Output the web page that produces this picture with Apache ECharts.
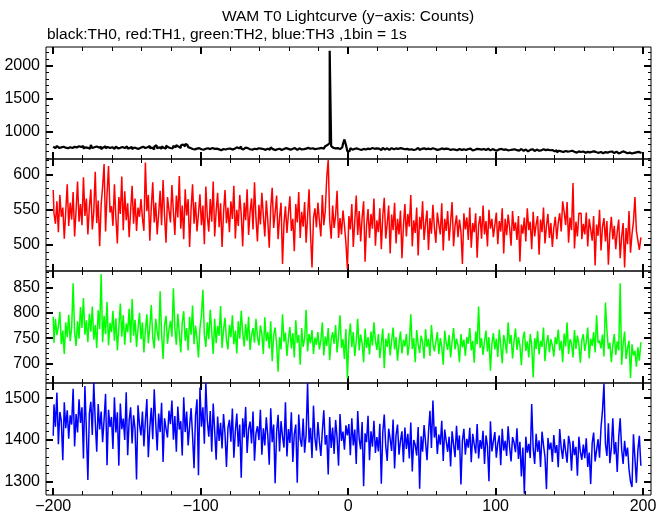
<!DOCTYPE html>
<html><head><meta charset="utf-8">
<script src="https://cdn.jsdelivr.net/npm/echarts@6/dist/echarts.min.js"></script>
<style>html,body{margin:0;padding:0;background:#fff}#c{width:669px;height:515px}</style>
</head><body><div id="c"></div>
<script>
// time bins: 1 bin = 1 s, starting at -200 s
const binStart = -200;
const binCount = 400;

const th0 = [
772,748,765,781,752,760,738,769,755,774,746,762,790,751,768,743,759,777,748,764,
781,742,760,753,770,738,795,749,761,772,744,756,768,733,759,778,747,764,751,740,
762,736,757,771,744,753,729,766,748,759,775,740,752,767,731,758,745,770,738,756,
743,769,751,734,762,780,747,755,728,771,792,746,760,739,775,754,741,786,763,750,
768,744,782,759,795,771,750,788,803,776,812,798,764,752,735,747,729,741,736,748,
731,742,725,738,719,746,733,728,751,737,722,740,729,744,716,735,748,727,739,730,
743,726,752,738,761,734,745,772,740,729,755,736,748,731,758,725,739,762,733,746,
728,741,735,753,722,738,747,726,760,733,718,744,731,739,756,721,735,729,748,737,
742,725,738,731,749,720,736,745,729,758,734,741,727,752,738,730,746,733,755,739,
744,736,751,740,763,778,795,825,2228,780,752,745,738,749,733,741,758,812,880,798,
700,702,748,725,739,716,744,731,752,720,737,746,728,741,719,733,750,726,738,744,
729,741,718,736,752,727,745,733,721,748,739,730,744,717,736,749,725,740,731,722,
738,726,744,731,719,740,728,752,735,721,737,745,724,733,741,718,730,746,727,735,
722,738,729,744,716,733,741,725,737,720,748,731,726,739,715,734,743,722,730,737,
719,735,726,741,712,730,723,738,717,732,726,709,735,721,729,740,714,727,733,718,
725,710,731,718,736,722,707,729,715,733,720,726,704,730,717,724,711,735,719,708,
728,713,699,722,716,732,705,719,726,708,721,714,731,702,718,725,709,716,720,703,
702,716,685,708,699,711,690,705,717,696,701,687,709,694,703,680,698,712,689,697,
700,678,691,705,683,694,673,699,686,708,677,690,696,671,688,701,680,693,684,697,
673,687,696,668,692,681,699,675,686,671,693,680,667,689,676,684,672,691,678,673
];

const th1 = [
578,545,530,562,518,571,540,553,509,548,586,527,560,536,575,512,549,590,533,558,
528,596,541,566,515,553,579,522,547,604,531,563,498,557,583,615,519,572,612,546,
555,527,586,539,502,568,544,597,521,576,535,559,511,549,584,530,566,520,553,540,
565,538,520,617,548,571,506,553,589,532,560,515,544,577,528,592,541,503,568,549,
532,585,547,514,570,539,598,523,556,508,579,542,565,497,551,586,530,561,519,544,
572,528,556,501,583,540,519,565,533,590,512,548,574,525,559,497,545,578,531,553,
518,562,537,584,509,550,527,571,543,498,560,535,579,514,547,566,522,589,538,505,
557,529,574,541,512,563,535,496,552,581,524,546,570,508,539,560,473,531,555,517,
544,569,520,537,491,558,532,575,510,547,526,561,503,540,579,515,468,538,552,525,
560,534,512,571,528,548,596,621,535,509,556,524,542,577,510,538,515,549,528,503,
466,541,522,558,497,533,570,514,548,505,539,562,476,528,551,510,544,523,566,499,
535,518,552,494,541,567,509,530,556,488,543,521,560,502,537,515,549,481,527,558,
512,544,526,571,498,535,517,553,485,540,522,562,507,531,549,493,538,516,557,524,
503,546,529,515,559,492,537,520,548,506,533,561,498,527,542,511,536,519,473,545,
522,539,507,553,496,531,518,545,482,528,541,509,556,515,534,498,550,523,537,511,
528,546,501,534,519,552,488,537,514,543,525,499,548,520,532,507,541,476,529,516,
539,505,552,521,533,494,547,512,529,541,486,536,518,553,502,527,544,510,531,497,
524,540,508,532,545,519,562,547,528,561,503,539,521,588,495,533,512,545,545,508,
530,515,546,498,537,522,506,541,471,529,513,550,492,526,538,505,534,472,517,540,
508,527,494,519,536,481,512,531,468,524,501,548,489,515,533,568,520,506,493,510
];

const th2 = [
792,741,788,756,773,802,738,765,719,781,752,796,744,770,858,762,735,783,749,811,
770,829,757,785,742,798,763,812,747,776,731,805,768,876,742,794,758,821,736,780,
762,804,745,789,726,771,818,753,795,737,779,762,808,741,827,755,786,733,769,800,
748,781,722,765,797,740,772,815,751,730,788,763,745,842,758,709,776,794,739,767,
784,753,848,769,737,798,760,722,781,803,745,770,726,792,757,814,738,775,749,712,
769,795,845,756,733,781,748,806,762,719,788,740,774,755,813,731,767,790,746,728,
776,752,795,738,765,720,783,749,804,761,734,778,745,792,727,756,770,741,788,752,
736,775,758,719,791,744,762,730,783,705,756,771,738,684,752,728,797,743,761,715,
748,772,730,760,712,785,741,756,698,770,733,749,806,724,758,740,766,719,751,737,
762,728,745,781,716,753,735,770,707,748,762,739,776,722,755,795,731,748,709,768,
671,750,779,733,762,715,744,788,726,757,740,703,769,731,752,718,763,736,781,745,
727,758,711,740,769,691,749,733,760,716,745,771,728,752,706,739,763,720,747,734,
758,716,741,797,729,750,703,766,738,721,755,742,710,768,733,749,715,776,739,724,
743,762,719,750,733,698,765,741,727,756,712,744,770,728,749,736,703,758,732,747,
715,752,739,770,726,745,702,763,738,812,731,750,717,744,765,724,752,686,739,760,
728,749,713,767,735,701,756,742,720,781,739,756,710,744,769,727,752,736,697,748,
763,725,744,712,758,737,673,750,729,764,718,745,733,771,705,740,756,722,748,736,
714,752,738,767,726,745,703,759,734,781,719,748,740,712,766,729,755,737,702,746,
758,725,743,771,710,749,735,762,722,795,741,745,730,757,714,820,766,729,741,703,
736,758,717,744,726,858,698,739,763,709,731,745,672,738,716,725,694,732,706,741
];

const th3 = [
1410,1485,1432,1513,1390,1467,1445,1352,1490,1428,1471,1403,1459,1437,1522,1385,1462,1418,1497,1441,
1478,1356,1529,1420,1305,1463,1491,1412,1537,1444,1372,1486,1425,1468,1395,1449,1510,1340,1472,1431,
1455,1379,1502,1418,1466,1339,1487,1426,1451,1400,1514,1364,1447,1478,1392,1459,1426,1306,1483,1437,
1411,1468,1385,1446,1498,1359,1430,1477,1402,1521,1442,1375,1463,1419,1489,1348,1452,1427,1406,1470,
1438,1494,1401,1457,1372,1480,1425,1445,1363,1502,1419,1468,1387,1434,1476,1410,1333,1458,1497,1316,
1525,1432,1478,1391,1536,1446,1408,1469,1372,1487,1421,1353,1456,1398,1441,1380,1462,1415,1336,1429,
1448,1396,1475,1358,1420,1463,1384,1437,1310,1452,1406,1479,1369,1426,1444,1392,1468,1351,1416,1433,
1400,1472,1365,1428,1387,1454,1412,1341,1476,1395,1437,1297,1419,1460,1373,1445,1408,1382,1490,1361,
1426,1393,1466,1348,1415,1437,1298,1461,1402,1384,1451,1370,1413,1536,1394,1429,1357,1482,1404,1375,
1443,1398,1362,1421,1471,1389,1412,1318,1455,1381,1430,1367,1448,1406,1339,1462,1398,1420,1377,1435,
1411,1438,1364,1452,1387,1425,1343,1469,1402,1378,1443,1290,1416,1395,1458,1352,1421,1384,1446,1369,
1407,1373,1439,1296,1418,1461,1386,1350,1427,1403,1374,1449,1332,1412,1437,1365,1398,1421,1347,1430,
1379,1415,1356,1442,1325,1400,1388,1363,1431,1284,1409,1372,1436,1395,1352,1418,1470,1381,1494,1406,
1432,1367,1413,1389,1446,1350,1425,1398,1372,1408,1337,1421,1390,1359,1434,1376,1411,1294,1398,1427,
1365,1403,1382,1429,1347,1415,1390,1368,1438,1356,1400,1379,1422,1343,1411,1386,1302,1445,1373,1397,
1419,1358,1392,1411,1340,1427,1375,1398,1362,1433,1384,1349,1407,1394,1371,1428,1355,1396,1313,1382,
1272,1408,1370,1391,1357,1486,1380,1343,1415,1372,1399,1336,1420,1388,1360,1283,1405,1377,1394,1348,
1412,1369,1388,1335,1426,1381,1355,1402,1373,1346,1410,1390,1327,1398,1364,1384,1315,1408,1371,1353,
1389,1357,1404,1336,1370,1295,1392,1418,1349,1376,1402,1358,1430,1470,1535,1391,1362,1440,1345,1380,
1452,1366,1395,1324,1407,1452,1378,1343,1398,1361,1382,1330,1301,1288,1414,1357,1298,1376,1410,1340
];

const xMajorTicks = [-200,-100,0,100,200];
const xMinorTicks = [-200,-180,-160,-140,-120,-100,-80,-60,-40,-20,0,20,40,60,80,100,120,140,160,180,200];

const panelNames = ['TH0','TH1','TH2','TH3'];
const panelColors = ['#000000','#ff0000','#00ff00','#0000ff'];
const panelData = [th0, th1, th2, th3];
const yRanges = [[583,2285],[463,622],[662,882],[1269,1536]];
const yMajorTicks = [[1000,1500,2000],[500,550,600],[700,750,800,850],[1300,1400,1500]];
const yMinorTicks = [
  [600,700,800,900,1000,1100,1200,1300,1400,1500,1600,1700,1800,1900,2000,2100,2200],
  [470,480,490,500,510,520,530,540,550,560,570,580,590,600,610,620],
  [670,680,690,700,710,720,730,740,750,760,770,780,790,800,810,820,830,840,850,860,870,880],
  [1280,1300,1320,1340,1360,1380,1400,1420,1440,1460,1480,1500,1520]
];

const X_MIN = -204.9, X_MAX = 205.4;
const FONT = 'Liberation Sans';
const fmtMinus = v => String(v).replace('-', '\u2212');
const fmtPlain = v => String(v);

const grids = [], xAxes = [], yAxes = [], series = [];
const top0 = 47, ph = 112;
for (let i = 0; i < 4; i++) {
  grids.push({left: 46, right: 18, top: top0 + ph * i, height: ph,
    show: true, borderColor: '#000', borderWidth: 1, backgroundColor: 'transparent'});
  const mkX = (pos, vals, len, w, labels) => ({
    type: 'value', gridIndex: i, min: X_MIN, max: X_MAX, position: pos,
    axisLine: {show: false, onZero: false}, splitLine: {show: false},
    axisTick: {show: true, inside: true, length: len, customValues: vals, lineStyle: {color: '#000', width: w}},
    axisLabel: {show: labels, customValues: xMajorTicks, formatter: fmtMinus, color: '#000',
      fontFamily: FONT, fontSize: 16, margin: 4}
  });
  xAxes.push(mkX('bottom', xMajorTicks, 7, 2, i === 3));
  xAxes.push(mkX('bottom', xMinorTicks, 4, 1, false));
  xAxes.push(mkX('top', xMajorTicks, 7, 2, false));
  xAxes.push(mkX('top', xMinorTicks, 4, 1, false));
  const [ymin, ymax] = yRanges[i];
  const mkY = (pos, vals, len, w, labels) => ({
    type: 'value', gridIndex: i, min: ymin, max: ymax, position: pos,
    axisLine: {show: false, onZero: false}, splitLine: {show: false},
    axisTick: {show: true, inside: true, length: len, customValues: vals, lineStyle: {color: '#000', width: w}},
    axisLabel: {show: labels, customValues: yMajorTicks[i], formatter: fmtPlain, color: '#000',
      fontFamily: FONT, fontSize: 16, margin: 6}
  });
  yAxes.push(mkY('left', yMajorTicks[i], 7, 2, true));
  yAxes.push(mkY('left', yMinorTicks[i], 3, 1, false));
  yAxes.push(mkY('right', yMajorTicks[i], 7, 2, false));
  yAxes.push(mkY('right', yMinorTicks[i], 3, 1, false));
  const vals = panelData[i];
  const pts = vals.map((v, k) => [binStart + k, v]);
  series.push({
    name: panelNames[i], type: 'line', xAxisIndex: i * 4, yAxisIndex: i * 4,
    data: pts, step: 'middle', showSymbol: false, symbol: 'none', clip: true,
    lineStyle: {color: panelColors[i], width: i === 0 ? 2.2 : 1.5}, itemStyle: {color: panelColors[i]},
    emphasis: {disabled: true}
  });
}

const chart = echarts.init(document.getElementById('c'), null, {renderer: 'canvas'});
chart.setOption({
  animation: false,
  backgroundColor: '#fff',
  title: [
    {text: 'WAM T0 Lightcurve (y\u2212axis: Counts)', left: 348, top: 9, padding: 0, textAlign: 'center',
      textStyle: {fontFamily: FONT, fontSize: 15.5, fontWeight: 'normal', color: '#000'}},
    {text: 'black:TH0, red:TH1, green:TH2, blue:TH3 ,1bin = 1s', left: 47, top: 27, padding: 0,
      textStyle: {fontFamily: FONT, fontSize: 15.5, fontWeight: 'normal', color: '#000'}}
  ],
  grid: grids, xAxis: xAxes, yAxis: yAxes, series: series
});
</script></body></html>
